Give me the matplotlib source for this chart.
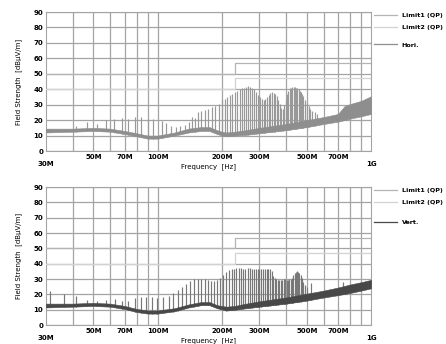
import numpy as np
import matplotlib
matplotlib.use("Agg")
import matplotlib.pyplot as plt
from matplotlib.lines import Line2D

# frequencies in MHz, levels in dBuV/m
LIMIT_F = [30, 230, 230, 1000]
LIMIT1_DB = [50, 50, 57, 57]
LIMIT2_DB = [40, 40, 47, 47]

GRID_F = [40, 50, 60, 70, 80, 90, 100, 200, 300, 400, 500, 600, 700, 800, 900]
TICK_TEXT = {50: "50M", 70: "70M", 100: "100M", 200: "200M",
             300: "300M", 500: "500M", 700: "700M"}

# --- horizontal polarisation ---
hori_floor_f = [30, 40, 50, 60, 70, 80, 90, 100, 120, 140, 160, 175, 190, 200,
                210, 230, 260, 300, 400, 500, 600, 700, 750, 800, 900, 1000]
hori_floor_lo = [12, 12.5, 13, 12.5, 11, 9.5, 8, 8, 10, 12, 13, 13, 11, 10,
                 9.5, 10, 10.5, 11.5, 13.5, 15.5, 17.5, 19, 20, 21, 22.5, 24]
hori_floor_hi = [14.5, 14.5, 15, 14.5, 13, 11.5, 10, 10, 12, 14.5, 15.5, 15.5, 13.5, 12.5,
                 12, 12.5, 13.5, 15, 17.5, 20, 22, 24, 29, 30.5, 32.5, 35.5]
hori_spike_f = [41.6, 46.8, 52, 57.2, 62.3, 67.8, 73, 78.7, 84, 89.9, 95.4, 104.4, 110,
                116, 122, 128, 134, 140, 145, 150, 155, 160, 167, 172, 179, 186, 193,
                200, 206, 212, 218, 224, 230, 236, 242, 248, 254, 260, 266, 272, 278,
                284, 290, 296, 302, 308, 314, 320, 326, 332, 338, 344, 350, 356, 362,
                368, 374, 380, 386, 392, 398, 404, 410, 416, 422, 428, 434, 440, 446,
                452, 458, 464, 470, 476, 482, 490, 500, 510, 520, 530, 545, 560]
hori_spike_db = [16.5, 18.5, 17.5, 20, 20.5, 21.5, 21, 22, 22, 21, 20.5, 19.5, 18,
                 16.5, 15.5, 16, 17, 18.5, 22, 21.5, 25.5, 26, 26.5, 27.5, 28.5, 29, 30.5,
                 33, 34, 35, 36, 37, 38.5, 39, 40, 40.5, 41, 41.5, 41.8, 41.5, 41,
                 40, 38.5, 36.5, 35, 34, 33, 33.5, 35, 36.5, 37.5, 38, 37.8, 37, 35.5,
                 33, 30.5, 28, 27, 30, 34, 37, 39, 40.5, 41, 41.5, 41.5, 41.5, 41,
                 40.5, 40, 39, 38, 37, 35.5, 33, 31, 29, 27, 26, 25, 24]

# --- vertical polarisation ---
vert_floor_f = [30, 40, 50, 60, 70, 80, 90, 100, 120, 140, 160, 175, 190, 210,
                230, 260, 300, 400, 500, 600, 700, 800, 900, 1000]
vert_floor_lo = [11.5, 12, 12.5, 12, 10.5, 8.5, 7.5, 7.5, 9, 11.5, 13, 13, 11, 9.5,
                 10, 11, 12, 14, 16, 18, 19.5, 21, 22.5, 24]
vert_floor_hi = [14, 14, 14.5, 14, 12.5, 10.5, 9.5, 9.5, 11, 13.5, 15, 15, 13, 12,
                 12.5, 14, 15.5, 18, 20.5, 22.5, 24.5, 26.5, 28, 29.5]
vert_spike_f = [31.3, 36.6, 41.6, 46.8, 51.8, 57.2, 63, 68, 73, 78.7, 84, 88.6, 93.7,
                99.4, 106.5, 112.8, 118, 124, 130, 136, 142, 148, 154, 160, 166, 172,
                178, 184, 190, 197, 203, 210, 216, 222, 228, 234, 240, 246, 252, 258,
                264, 270, 276, 282, 288, 294, 300, 306, 312, 318, 324, 330, 336, 342,
                348, 354, 360, 366, 372, 378, 384, 390, 396, 402, 408, 414, 420, 426,
                432, 438, 444, 450, 456, 462, 468, 474, 480, 488, 500, 525, 740]
vert_spike_db = [22.5, 20.5, 19, 16.5, 15.5, 16.5, 17, 15.5, 15.5, 17.5, 18, 18, 18,
                 17.5, 18.5, 19, 21, 23, 25, 27, 28.5, 30, 30, 30, 30, 29.5,
                 29, 29, 29.5, 31, 32.5, 34.5, 36, 36.5, 36.5, 37, 37, 37, 36.8, 36.8,
                 37, 37, 36.8, 36.8, 36.5, 36.8, 36.8, 36.5, 36.5, 36.8, 36.5, 36.5, 36.5, 35,
                 32, 30.5, 30, 29.5, 29.5, 29.5, 29.5, 30, 30, 29.5, 29.5, 30, 30, 31,
                 33, 34, 34.8, 35, 34.5, 34, 33, 31, 28, 26, 25, 27.4, 28.3]

plt.rcParams["font.family"] = "DejaVu Sans"
plt.rcParams["font.weight"] = "bold"

fig = plt.figure(figsize=(4.46, 3.44), dpi=100)
ax_top = fig.add_axes([0.103, 0.561, 0.729, 0.404])
ax_bot = fig.add_axes([0.103, 0.055, 0.729, 0.401])

panels = [
    (ax_top, hori_floor_f, hori_floor_lo, hori_floor_hi, hori_spike_f, hori_spike_db,
     "#8e8e8e", "#999999", "Hori.", 0.763),
    (ax_bot, vert_floor_f, vert_floor_lo, vert_floor_hi, vert_spike_f, vert_spike_db,
     "#484848", "#777777", "Vert.", 0.746),
]

for ax, ff, lo, hi, sf, sdb, col, scol, name, ly in panels:
    base = np.interp(sf, ff, lo)
    ax.vlines(sf, base, sdb, colors=scol, lw=0.85, zorder=2)
    ax.fill_between(ff, lo, hi, color=col, lw=0.4, zorder=3)
    ax.plot(LIMIT_F, LIMIT1_DB, color="#b4b4b4", lw=0.9, zorder=4)
    ax.plot(LIMIT_F, LIMIT2_DB, color="#d2d2d2", lw=0.9, zorder=4)

    ax.set_xscale("log")
    ax.set_xlim(30, 1000)
    ax.set_ylim(0, 90)
    ax.set_yticks(range(0, 91, 10))
    ax.set_xticks(GRID_F, labels=[TICK_TEXT.get(f, "") for f in GRID_F])
    ax.set_xticks([30, 1000], labels=["30M", "1G"], minor=True)
    ax.tick_params(which="both", length=0, labelsize=5, pad=2)
    ax.tick_params(axis="x", which="minor", pad=7)
    ax.grid(True, which="major", color="#a4a4a4", lw=0.9, zorder=1)
    for sp in ax.spines.values():
        sp.set_color("#a4a4a4")
    ax.set_xlabel("Frequency  [Hz]", fontsize=5)
    ax.xaxis.set_label_coords(0.5, -0.085)
    ax.set_ylabel("Field Strength  [dB\u03bcV/m]", fontsize=5, labelpad=8)

    lim_handles = [Line2D([], [], color="#b4b4b4", lw=0.9),
                   Line2D([], [], color="#d2d2d2", lw=0.9)]
    leg1 = ax.legend(lim_handles, ["Limit1 (QP)", "Limit2 (QP)"], loc="center left",
                     bbox_to_anchor=(1.0, 0.935), frameon=False, fontsize=4.6,
                     handlelength=3.6, handletextpad=0.7, labelspacing=1.0,
                     borderaxespad=0.1)
    ax.add_artist(leg1)
    ax.legend([Line2D([], [], color=col, lw=0.9)], [name], loc="center left",
              bbox_to_anchor=(1.0, ly), frameon=False, fontsize=4.6,
              handlelength=3.6, handletextpad=0.7, borderaxespad=0.1)

fig.savefig("out.png", dpi=100)
